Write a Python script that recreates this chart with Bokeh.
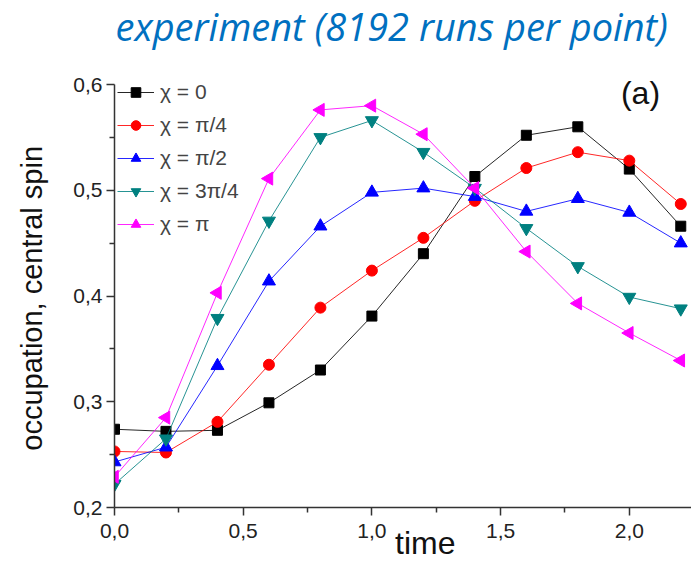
import numpy as np
from bokeh.plotting import figure
from bokeh.models import (Range1d, FixedTicker, CustomJSTickFormatter, Label,
                          Legend, LegendItem, ColumnDataSource)
from bokeh.embed import file_html
from bokeh.resources import INLINE

# ---- data ----
time = [0.0, 0.2, 0.4, 0.6, 0.8, 1.0, 1.2, 1.4, 1.6, 1.8, 2.0, 2.2]
chi_0 = [0.274, 0.272, 0.273, 0.299, 0.330, 0.381, 0.440, 0.513, 0.552, 0.560, 0.520, 0.466]
chi_pi4 = [0.253, 0.252, 0.281, 0.335, 0.389, 0.424, 0.455, 0.490, 0.521, 0.536, 0.528, 0.487]
chi_pi2 = [0.243, 0.257, 0.334, 0.414, 0.466, 0.498, 0.502, 0.494, 0.480, 0.492, 0.479, 0.450]
chi_3pi4 = [0.222, 0.265, 0.379, 0.471, 0.550, 0.566, 0.536, 0.502, 0.464, 0.428, 0.399, 0.388]
chi_pi = [0.229, 0.285, 0.403, 0.511, 0.576, 0.580, 0.553, 0.502, 0.442, 0.393, 0.365, 0.339]
series_labels = ["χ = 0", "χ = π/4", "χ = π/2", "χ = 3π/4", "χ = π"]
x_ticks = [0.0, 0.5, 1.0, 1.5, 2.0]
y_ticks = [0.2, 0.3, 0.4, 0.5, 0.6]

series = [chi_0, chi_pi4, chi_pi2, chi_3pi4, chi_pi]
colors = ["#000000", "#FF0000", "#0000FF", "#008080", "#FF00FF"]
markers = ["square", "circle", "triangle", "inverted_triangle", "triangle"]
angles = [0, 0, 0, 0, np.pi / 2]
sizes = [10, 11, 13, 13, 13]

W, H = 691, 568
L, R, B = 114, 0, 61
FH = H - B              # frame spans from canvas top to the x axis
PX_PER_Y = 1057.5       # pixels per unit on the y axis
PX_PER_X = 257.4        # pixels per unit on the x axis
Y0 = 0.2

p = figure(width=W, height=H, output_backend="svg", toolbar_location=None,
           x_range=Range1d(0, (W - L - R) / PX_PER_X),
           y_range=Range1d(Y0, Y0 + FH / PX_PER_Y),
           min_border_left=L, min_border_right=R, min_border_top=0, min_border_bottom=B)
p.outline_line_color = None
p.xgrid.visible = False
p.ygrid.visible = False
p.background_fill_color = "white"
p.border_fill_color = "white"

fmt = CustomJSTickFormatter(code="return tick.toFixed(1).replace('.', ',');")
for ax in (p.xaxis[0], p.yaxis[0]):
    ax.formatter = fmt
    ax.axis_line_color = "#333333"
    ax.axis_line_width = 1.5
    ax.major_tick_line_color = "#333333"
    ax.major_tick_line_width = 1.5
    ax.minor_tick_line_color = "#333333"
    ax.minor_tick_line_width = 1.5
    ax.major_tick_out = 8
    ax.major_tick_in = 0
    ax.minor_tick_out = 5
    ax.minor_tick_in = 0
    ax.major_label_text_font = "Liberation Sans"
    ax.major_label_text_font_size = "21px"
    ax.major_label_text_color = "#222222"

p.xaxis[0].ticker = FixedTicker(ticks=x_ticks, minor_ticks=[0.25, 0.75, 1.25, 1.75])
p.yaxis[0].ticker = FixedTicker(ticks=y_ticks, minor_ticks=[0.25, 0.35, 0.45, 0.55])
p.yaxis[0].bounds = (y_ticks[0], y_ticks[-1])
p.xaxis[0].major_label_standoff = 8
p.yaxis[0].major_label_standoff = 4
# trailing no-break spaces move the rotated label down to the centre of the axis
p.yaxis[0].axis_label = "occupation, central spin" + "\u00a0" * 11
p.yaxis[0].axis_label_text_font = "Liberation Sans"
p.yaxis[0].axis_label_text_font_style = "normal"
p.yaxis[0].axis_label_text_font_size = "29px"
p.yaxis[0].axis_label_text_color = "#111111"
p.yaxis[0].axis_label_standoff = 22

# x label: shifted right of centre with leading no-break spaces
p.xaxis[0].axis_label = "\u00a0" * 5 + "time"
p.xaxis[0].axis_label_text_font = "Liberation Sans"
p.xaxis[0].axis_label_text_font_style = "normal"
p.xaxis[0].axis_label_text_font_size = "32px"
p.xaxis[0].axis_label_text_color = "#111111"
p.xaxis[0].axis_label_standoff = -16

items = []
for ys, c, m, a, s, lab in zip(series, colors, markers, angles, sizes, series_labels):
    src = ColumnDataSource(dict(x=time, y=ys))
    lr = p.line("x", "y", source=src, line_color=c, line_width=1, line_alpha=0.85)
    sr = p.scatter("x", "y", source=src, marker=m, angle=a, size=s,
                   fill_color=c, line_color=c)
    items.append(LegendItem(label=lab, renderers=[lr, sr]))

# legend: top edge at canvas y=80, 5 rows of 24 px + 4 gaps of 9 px
leg_h = 5 * 24 + 4 * 9
legend = Legend(items=items, location=(3, FH - 80 - leg_h), margin=0, padding=0,
                glyph_width=37, glyph_height=24, label_height=24, spacing=9,
                label_text_font="Liberation Sans", label_text_font_size="21px",
                label_standoff=6, background_fill_alpha=0, border_line_color=None)
p.add_layout(legend)

# panel tag
p.add_layout(Label(x=640 - L, y=FH - 92, x_units="screen", y_units="screen",
                   text="(a)", text_font="Liberation Sans", text_font_size="32px",
                   text_align="center", text_baseline="middle", text_color="#111111"))

# title (inside the frame, which reaches the canvas top)
p.add_layout(Label(x=1, y=FH - 25, x_units="screen", y_units="screen",
                   text="experiment (8192 runs per point)", text_font="Open Sans",
                   text_font_style="italic", text_font_size="38px",
                   text_align="left", text_baseline="alphabetic", text_color="#0070C0"))

open("out.html", "w").write(file_html(p, INLINE))
